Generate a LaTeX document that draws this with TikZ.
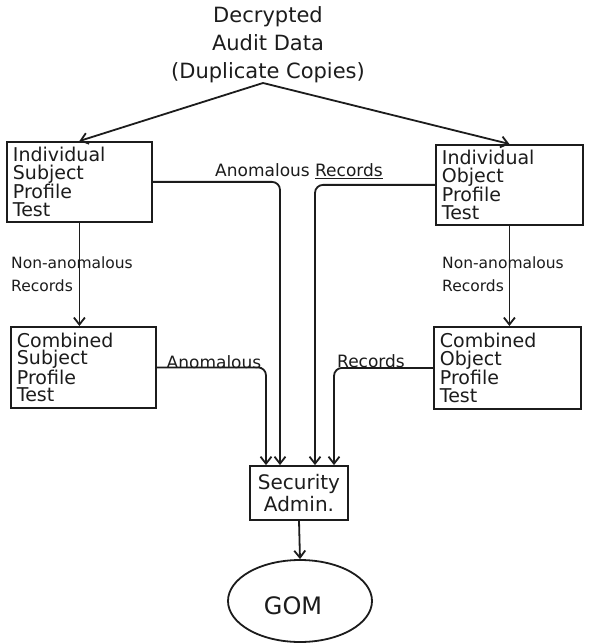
\documentclass[tikz,border=0pt]{standalone}
\usepackage{fontspec}
\setmainfont{DejaVu Sans}
\usetikzlibrary{arrows.meta,shapes.geometric}
\definecolor{ink}{RGB}{28,28,28}
\begin{document}
\begin{tikzpicture}[x=1pt,y=-1pt,
  box/.style={draw=ink, line width=1.8pt, text=ink, align=left,
    inner xsep=6pt, inner ysep=0pt, font=\fontsize{19}{17.5}\selectfont},
  flow/.style={draw=ink, line width=1.8pt,
    -{Straight Barb[length=7pt,width=11pt,line width=1.8pt]}},
  lab/.style={text=ink, inner sep=0pt, font=\fontsize{17}{20}\selectfont},
  sidelab/.style={text=ink, inner sep=0pt, align=left, anchor=north west,
    font=\fontsize{15.5}{23}\selectfont},
]
\fill[white] (0,0) rectangle (589,644);
\useasboundingbox (0,0) rectangle (589,644);

% source of the audit stream
\node[text=ink, align=center, anchor=north, inner sep=0pt,
      font=\fontsize{21}{28}\selectfont] (src) at (268,6)
  {Decrypted\\Audit Data\\(Duplicate Copies)};
\coordinate (split) at (263,83);

% profile tests
\node[box, minimum width=145pt, minimum height=80pt, text width=133pt,
      anchor=north west] (ist) at (6,141) {Individual\\Subject\\Profile\\Test};
\node[box, minimum width=147pt, minimum height=80pt, text width=135pt,
      anchor=north west] (iot) at (435,144) {Individual\\Object\\Profile\\Test};
\node[box, minimum width=145pt, minimum height=81pt, text width=133pt,
      anchor=north west] (cst) at (10,326) {Combined\\Subject\\Profile\\Test};
\node[box, minimum width=147pt, minimum height=82pt, text width=135pt,
      anchor=north west] (cot) at (433,326) {Combined\\Object\\Profile\\Test};

% administrator and GOM
\node[draw=ink, line width=1.8pt, text=ink, align=center, inner sep=0pt,
      minimum width=98pt, minimum height=54pt,
      font=\fontsize{20}{22}\selectfont] (sa) at (299,493) {Security\\Admin.};
\node[draw=ink, line width=1.8pt, ellipse, inner sep=0pt,
      minimum width=144pt, minimum height=82pt] (gom) at (300,601) {};
\node[text=ink, inner sep=0pt, font=\fontsize{24}{24}\selectfont]
  (gomtxt) at (293,606) {GOM};

% split of the data
\draw[flow] (split) -- (ist.north);
\draw[flow] (split) -- (iot.north);

% non-anomalous records
\draw[flow] (ist.south) -- (ist.south |- cst.north);
\draw[flow] (iot.south) -- (iot.south |- cot.north);
\node[sidelab] (nal) at (11,257) {Non-anomalous\\Records};
\node[sidelab] (nar) at (442,257) {Non-anomalous\\Records};

% anomalous records to the administrator
\draw[flow, rounded corners=8pt] (ist.east) -| ([xshift=-19pt]sa.north);
\draw[flow, rounded corners=8pt] (iot.west) -| ([xshift=16pt]sa.north);
\draw[flow, rounded corners=8pt] (cst.east) -| ([xshift=-33pt]sa.north);
\draw[flow, rounded corners=8pt] (cot.west) -| ([xshift=35pt]sa.north);
\node[lab] (lbltop) at (299,171) {Anomalous \underline{Records}};
\node[lab] (lbla) at (214,362) {Anomalous};
\node[lab] (lblr) at (371,361) {Records};

\draw[flow] (sa.south) -- (gom.north);
\end{tikzpicture}
\end{document}
